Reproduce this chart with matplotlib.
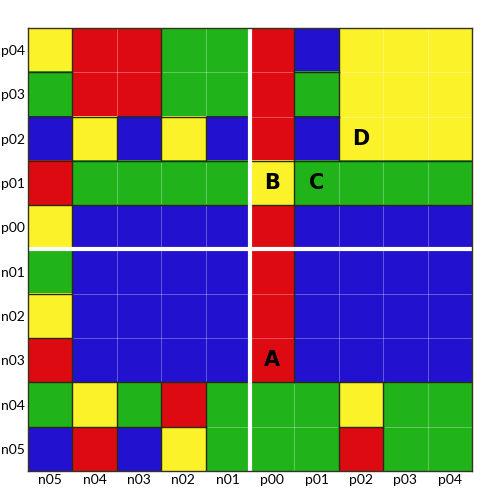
import numpy as np
import matplotlib.pyplot as plt
from matplotlib.colors import ListedColormap

# column and row labels (rows listed top to bottom)
cols = ['n05', 'n04', 'n03', 'n02', 'n01', 'p00', 'p01', 'p02', 'p03', 'p04']
rows = ['p04', 'p03', 'p02', 'p01', 'p00', 'n01', 'n02', 'n03', 'n04', 'n05']

# cell colours: R red, G green, B blue, Y yellow
grid = [
    'YRRGGRBYYY',
    'GRRGGRGYYY',
    'BYBYBRBYYY',
    'RGGGGYGGGG',
    'YBBBBRBBBB',
    'GBBBBRBBBB',
    'YBBBBRBBBB',
    'RBBBBRBBBB',
    'GYGRGGGYGG',
    'BRBYGGGRGG',
]

# letters placed in cells: (letter, column label, row label)
marks = [('A', 'p00', 'n03'), ('B', 'p00', 'p01'),
         ('C', 'p01', 'p01'), ('D', 'p02', 'p02')]

code = {'R': 0, 'G': 1, 'B': 2, 'Y': 3}
cmap = ListedColormap(['#dd0a12', '#20b41a', '#2212d0', '#fbf22a'])
M = np.array([[code[c] for c in r] for r in grid])
nr, nc = M.shape

fig = plt.figure(figsize=(5, 5), dpi=100)
ax = fig.add_axes([0.056, 0.058, 0.888, 0.886])
ax.imshow(M, cmap=cmap, vmin=-0.5, vmax=3.5, aspect='auto',
          interpolation='nearest')

# faint grid inside the cells
for k in range(1, nc):
    ax.axvline(k - 0.5, color='white', lw=0.6, alpha=0.35)
for k in range(1, nr):
    ax.axhline(k - 0.5, color='white', lw=0.6, alpha=0.35)

# dark borders where neighbouring colours differ
for i in range(nr):
    for j in range(nc - 1):
        if M[i, j] != M[i, j + 1]:
            ax.plot([j + 0.5, j + 0.5], [i - 0.5, i + 0.5], color='#2a2a10', lw=1.0)
for i in range(nr - 1):
    for j in range(nc):
        if M[i, j] != M[i + 1, j]:
            ax.plot([j - 0.5, j + 0.5], [i + 0.5, i + 0.5], color='#2a2a10', lw=1.0)

# white separators between negative and positive halves
ax.axvline(cols.index('p00') - 0.5, color='white', lw=3)
ax.axhline(rows.index('n01') - 0.5, color='white', lw=3)

for letter, cx, ry in marks:
    ax.text(cols.index(cx), rows.index(ry), letter, ha='center', va='center',
            fontsize=15, fontweight='bold', color='black', family='DejaVu Sans')

ax.set_xlim(-0.5, nc - 0.5)
ax.set_ylim(nr - 0.5, -0.5)
ax.set_xticks(range(nc))
ax.set_xticklabels(cols, fontsize=10, family='Lato')
ax.set_yticks(range(nr))
ax.set_yticklabels(rows, fontsize=10, family='Lato')
ax.tick_params(length=0, pad=2.5)
for s in ax.spines.values():
    s.set_color('#333320')
    s.set_linewidth(1.0)

fig.savefig('out.png', dpi=100)
